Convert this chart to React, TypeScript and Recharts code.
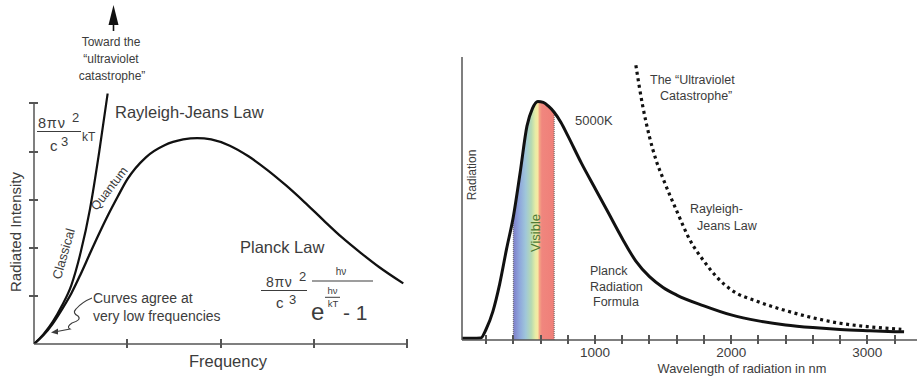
// App.tsx
//
// Two-panel blackbody figure: classical (Rayleigh-Jeans) vs Planck on a
// frequency axis, and the 5000K Planck curve vs Rayleigh-Jeans on a
// wavelength axis.

import {
  Area,
  ComposedChart,
  Line,
  LineChart,
  ReferenceLine,
  XAxis,
  YAxis,
} from "recharts";

// ---- left panel: intensity vs frequency (arbitrary units) ----
const freqPlanck = [0, 0.1, 0.2, 0.3, 0.4, 0.5, 0.6, 0.7, 0.8, 0.9, 1.0, 1.2, 1.4, 1.6, 1.75, 1.9, 2.1, 2.3, 2.5, 2.7, 2.9, 3.1, 3.3, 3.5, 3.7, 3.96];
const planckIntensity = [0, 0.18, 0.42, 0.72, 1.05, 1.45, 1.88, 2.3, 2.7, 3.07, 3.42, 3.88, 4.13, 4.25, 4.28, 4.25, 4.12, 3.9, 3.62, 3.3, 2.95, 2.58, 2.22, 1.9, 1.6, 1.26];
const freqClassical = [0, 0.1, 0.2, 0.3, 0.4, 0.5, 0.6, 0.7, 0.79];
const classicalIntensity = [0, 0.2, 0.46, 0.8, 1.22, 1.9, 2.8, 4.0, 5.21];
const freqTicks = [1, 2, 3, 4];
const intensityTicks = [1, 2, 3, 4, 5];

// ---- right panel: radiation vs wavelength (nm), Planck peak ~ 100 ----
const wlPlanck = [23, 100, 160, 200, 250, 300, 350, 400, 450, 500, 540, 580, 620, 660, 700, 750, 800, 900, 1000, 1100, 1200, 1300, 1400, 1500, 1600, 1800, 2000, 2200, 2400, 2600, 2800, 3000, 3200, 3270];
const planckRadiation = [0.7, 0.7, 0.8, 4.5, 12, 23.5, 38, 51.6, 70, 89.5, 96.8, 99.8, 99.4, 97.7, 95.3, 91, 85.5, 74, 63.5, 53, 42.5, 33, 26.5, 22, 18.8, 14.3, 10.5, 8, 6.3, 5.2, 4.4, 3.9, 3.5, 3.4];
const wlRJ = [1300, 1350, 1400, 1450, 1500, 1600, 1700, 1800, 1900, 2000, 2200, 2400, 2600, 2800, 3000, 3250];
const rjRadiation = [115, 98, 85, 75, 67.5, 54, 41.5, 33, 26, 21, 16, 12.3, 9.3, 7, 5.6, 4.5];
const visibleRange = [400, 700];
const wlTicks = [200, 400, 600, 800, 1000, 1200, 1400, 1600, 1800, 2000, 2200, 2400, 2600, 2800, 3000, 3200];

const INK = "#111";
const AXIS = "#555";
const TEXT = "#3c3c3c";
const FONT = '"Liberation Sans", Arial, Helvetica, sans-serif';

function lookup(xs: number[], ys: number[], x: number) {
  const i = xs.indexOf(x);
  return i >= 0 ? ys[i] : null;
}

const leftRows = Array.from(new Set([...freqPlanck, ...freqClassical]))
  .sort((a, b) => a - b)
  .map((f) => ({
    freq: f,
    planck: lookup(freqPlanck, planckIntensity, f),
    classical: lookup(freqClassical, classicalIntensity, f),
  }));

const rightRows = Array.from(new Set([...wlPlanck, ...wlRJ]))
  .sort((a, b) => a - b)
  .map((w) => {
    const p = lookup(wlPlanck, planckRadiation, w);
    return {
      wl: w,
      planck: p,
      rj: lookup(wlRJ, rjRadiation, w),
      visible: w >= visibleRange[0] && w <= visibleRange[1] ? p : null,
    };
  });

const visLo = lookup(wlPlanck, planckRadiation, visibleRange[0]) ?? 0;
const visHi = lookup(wlPlanck, planckRadiation, visibleRange[1]) ?? 0;

// tick marks that cross the axis line, snapped to whole pixels
function CrossTickX({ x, y }: any) {
  return <rect x={Math.round(x) - 1} y={Math.round(y) - 5} width={2} height={9} fill={AXIS} />;
}

function CrossTickY({ x, y }: any) {
  return <rect x={Math.round(x) - 5} y={Math.round(y) - 1} width={9} height={2} fill={AXIS} />;
}

function WlTick({ x, y, payload }: any) {
  const v = payload?.value;
  return (
    <g>
      <rect x={Math.round(x) - 1} y={Math.round(y) - 5} width={2} height={9} fill={AXIS} />
      {v % 1000 === 0 && (
        <text x={x} y={y + 17} textAnchor="middle" fontSize={13.5} fontFamily={FONT} fill={TEXT}>
          {v}
        </text>
      )}
    </g>
  );
}

function Annotations() {
  const t = { fontFamily: FONT, fill: TEXT };
  return (
    <svg width={920} height={378} style={{ position: "absolute", left: 0, top: 0, pointerEvents: "none" }}>
      {/* left panel */}
      <line x1={113.5} x2={113.5} y1={31} y2={20} stroke={INK} strokeWidth={1.6} />
      <polygon points="113.5,5 108.5,25 118.5,25" fill={INK} />
      <g {...t} fontSize={12} textAnchor="middle">
        <text x={111} y={46}>Toward the</text>
        <text x={111} y={63}>{"\u201Cultraviolet"}</text>
        <text x={112} y={80}>{"catastrophe\u201D"}</text>
      </g>

      <g {...t}>
        <text x={38} y={128} fontSize={14.5} letterSpacing={0.8}>8πν</text>
        <text x={72} y={122} fontSize={13}>2</text>
        <line x1={37} x2={81} y1={131.5} y2={131.5} stroke={TEXT} strokeWidth={1.2} />
        <text x={50} y={151} fontSize={15}>c</text>
        <text x={61} y={146} fontSize={13}>3</text>
        <text x={82} y={141} fontSize={12}>kT</text>
      </g>

      <text {...t} x={115} y={118} fontSize={16.5}>Rayleigh-Jeans Law</text>
      <text {...t} x={240} y={253} fontSize={16.5}>Planck Law</text>

      <g {...t}>
        <text x={266} y={286.5} fontSize={14} letterSpacing={0.6}>8πν</text>
        <text x={299} y={281} fontSize={13}>2</text>
        <line x1={261} x2={307} y1={290.5} y2={290.5} stroke={TEXT} strokeWidth={1.2} />
        <text x={276} y={308} fontSize={15}>c</text>
        <text x={289} y={304} fontSize={13}>3</text>
        <line x1={312} x2={373} y1={281} y2={281} stroke={TEXT} strokeWidth={1.2} />
        <text x={341} y={275} fontSize={10} textAnchor="middle">hν</text>
        <text x={311} y={320} fontSize={24}>e</text>
        <text x={332.5} y={294} fontSize={9.5} textAnchor="middle">hν</text>
        <line x1={325} x2={340} y1={297.3} y2={297.3} stroke={TEXT} strokeWidth={1} />
        <text x={333} y={307} fontSize={9.5} textAnchor="middle">kT</text>
        <text x={343} y={320} fontSize={21}>- 1</text>
      </g>

      <text {...t} x={0} y={0} fontSize={13} textAnchor="middle" dominantBaseline="middle"
        transform="translate(64.5,254) rotate(-74)">Classical</text>
      <text {...t} x={0} y={0} fontSize={12.5} textAnchor="middle" dominantBaseline="middle"
        transform="translate(110,189) rotate(-52)">Quantum</text>

      <g {...t} fontSize={14}>
        <text x={93} y={303}>Curves agree at</text>
        <text x={93} y={321}>very low frequencies</text>
      </g>
      <path d="M92,298 Q82,302 76,309 Q72,313 78,316 Q82,320 72,323 Q66,327 70,329 L57,331.5"
        fill="none" stroke={TEXT} strokeWidth={1.1} />
      <polygon points="51,332.5 58,328.5 58,334.5" fill={TEXT} />

      <text {...t} x={0} y={0} fontSize={15} textAnchor="middle"
        transform="translate(21,232) rotate(-90)">Radiated Intensity</text>
      <text {...t} x={228} y={367} fontSize={16.5} textAnchor="middle">Frequency</text>

      {/* right panel */}
      <text {...t} x={0} y={0} fontSize={12} textAnchor="middle"
        transform="translate(476,175) rotate(-90)">Radiation</text>
      <text x={0} y={0} fontSize={13} textAnchor="middle" fontFamily={FONT} fill="#4d7a36"
        transform="translate(540,233) rotate(-90)">Visible</text>
      <text {...t} x={575} y={125} fontSize={13}>5000K</text>
      <g {...t} fontSize={12.5}>
        <text x={650} y={84}>{"The \u201CUltraviolet"}</text>
        <text x={660} y={100}>{"Catastrophe\u201D"}</text>
        <text x={690} y={213}>Rayleigh-</text>
        <text x={697} y={230}>Jeans Law</text>
        <text x={590} y={275}>Planck</text>
        <text x={590} y={291}>Radiation</text>
        <text x={593} y={306}>Formula</text>
      </g>
      <text {...t} x={742} y={373} fontSize={12.8} textAnchor="middle">Wavelength of radiation in nm</text>
    </svg>
  );
}

export default function App() {
  return (
    <div style={{ position: "absolute", left: 0, top: 0, width: 920, height: 378, background: "#fff" }}>
      <div style={{ position: "absolute", left: 0, top: 0 }}>
        <LineChart width={440} height={378} data={leftRows} margin={{ top: 93.3, right: 33, bottom: 4, left: 4 }}>
          <XAxis
            type="number"
            dataKey="freq"
            domain={[0, 4]}
            allowDataOverflow
            ticks={freqTicks}
            interval={0}
            height={30}
            tickSize={0}
            tickMargin={0}
            tickLine={false}
            tick={(p: any) => <CrossTickX {...p} />}
            axisLine={{ stroke: AXIS, strokeWidth: 1.5 }}
          />
          <YAxis
            type="number"
            domain={[0, 5.21]}
            allowDataOverflow
            ticks={intensityTicks}
            interval={0}
            width={30}
            tickSize={0}
            tickMargin={0}
            tickLine={false}
            tick={(p: any) => <CrossTickY {...p} />}
            axisLine={false}
          />
          <ReferenceLine segment={[{ x: 0, y: 0 }, { x: 0, y: 5 }]} stroke={AXIS} strokeWidth={1.5} />
          <Line type="monotone" dataKey="classical" stroke={INK} strokeWidth={2.2} dot={false} connectNulls isAnimationActive={false} />
          <Line type="monotone" dataKey="planck" stroke={INK} strokeWidth={2.3} dot={false} connectNulls isAnimationActive={false} />
        </LineChart>
      </div>

      <div style={{ position: "absolute", left: 440, top: 0 }}>
        <ComposedChart width={480} height={378} data={rightRows} margin={{ top: 57, right: 3, bottom: 8, left: 2 }}>
          <defs>
            <linearGradient id="visibleGrad" x1="0" y1="0" x2="1" y2="0">
              <stop offset="0" stopColor="#7e7ec8" />
              <stop offset="0.15" stopColor="#8ea6dc" />
              <stop offset="0.3" stopColor="#9fc6da" />
              <stop offset="0.44" stopColor="#b6dab2" />
              <stop offset="0.54" stopColor="#e6eca6" />
              <stop offset="0.6" stopColor="#f8e8a2" />
              <stop offset="0.64" stopColor="#f4a484" />
              <stop offset="0.7" stopColor="#f0867e" />
              <stop offset="1" stopColor="#ef7f78" />
            </linearGradient>
          </defs>
          <XAxis
            type="number"
            dataKey="wl"
            domain={[23, 3365]}
            allowDataOverflow
            ticks={wlTicks}
            interval={0}
            height={30}
            tickSize={0}
            tickMargin={0}
            tickLine={false}
            tick={(p: any) => <WlTick {...p} />}
            axisLine={{ stroke: AXIS, strokeWidth: 1.5 }}
          />
          <YAxis
            type="number"
            domain={[0, 118.4]}
            allowDataOverflow
            width={20}
            tick={false}
            tickLine={false}
            axisLine={{ stroke: AXIS, strokeWidth: 1.5 }}
          />
          <Area type="monotone" dataKey="visible" fill="url(#visibleGrad)" fillOpacity={1} stroke="none" isAnimationActive={false} />
          <ReferenceLine segment={[{ x: visibleRange[0], y: 0 }, { x: visibleRange[0], y: visLo }]} stroke="#666" strokeWidth={1} strokeDasharray="1 1" />
          <ReferenceLine segment={[{ x: visibleRange[1], y: 0 }, { x: visibleRange[1], y: visHi }]} stroke="#666" strokeWidth={1} strokeDasharray="1 1" />
          <Line type="monotone" dataKey="rj" stroke={INK} strokeWidth={3.2} strokeDasharray="3 3.6" dot={false} connectNulls isAnimationActive={false} />
          <Line type="monotone" dataKey="planck" stroke={INK} strokeWidth={3} dot={false} connectNulls isAnimationActive={false} />
        </ComposedChart>
      </div>

      <Annotations />
    </div>
  );
}
